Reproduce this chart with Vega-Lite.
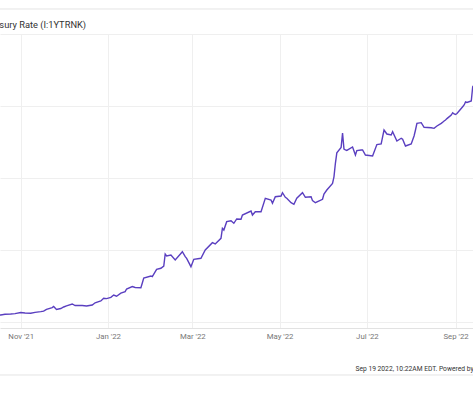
{
  "$schema": "https://vega.github.io/schema/vega-lite/v6.json",
  "autosize": {"type": "none"},
  "padding": {"left": 0, "top": 34, "right": 0, "bottom": 67},
  "width": 482,
  "height": 294,
  "background": "white",
  "config": {"view": {"stroke": null}, "font": "Roboto"},
  "title": {
    "text": "1 Year Treasury Rate (I:1YTRNK)",
    "anchor": "start",
    "orient": "top",
    "dx": -46.5,
    "offset": -22,
    "fontSize": 9.3,
    "fontWeight": "normal",
    "color": "#333333",
    "font": "Roboto"
  },
  "datasets": {
    "rate": [
      {"date": "2021-10-14", "value": 0.12},
      {"date": "2021-10-18", "value": 0.117},
      {"date": "2021-10-21", "value": 0.13},
      {"date": "2021-10-25", "value": 0.133},
      {"date": "2021-10-28", "value": 0.14},
      {"date": "2021-11-01", "value": 0.158},
      {"date": "2021-11-04", "value": 0.15},
      {"date": "2021-11-08", "value": 0.145},
      {"date": "2021-11-11", "value": 0.16},
      {"date": "2021-11-15", "value": 0.172},
      {"date": "2021-11-17", "value": 0.18},
      {"date": "2021-11-19", "value": 0.21},
      {"date": "2021-11-23", "value": 0.24},
      {"date": "2021-11-24", "value": 0.258},
      {"date": "2021-11-26", "value": 0.21},
      {"date": "2021-11-29", "value": 0.225},
      {"date": "2021-12-01", "value": 0.25},
      {"date": "2021-12-03", "value": 0.27},
      {"date": "2021-12-07", "value": 0.3},
      {"date": "2021-12-09", "value": 0.275},
      {"date": "2021-12-14", "value": 0.275},
      {"date": "2021-12-17", "value": 0.267},
      {"date": "2021-12-21", "value": 0.283},
      {"date": "2021-12-23", "value": 0.32},
      {"date": "2021-12-27", "value": 0.35},
      {"date": "2021-12-29", "value": 0.395},
      {"date": "2021-12-31", "value": 0.39},
      {"date": "2022-01-03", "value": 0.41},
      {"date": "2022-01-05", "value": 0.45},
      {"date": "2022-01-07", "value": 0.43},
      {"date": "2022-01-10", "value": 0.48},
      {"date": "2022-01-13", "value": 0.505},
      {"date": "2022-01-14", "value": 0.55},
      {"date": "2022-01-18", "value": 0.59},
      {"date": "2022-01-20", "value": 0.575},
      {"date": "2022-01-24", "value": 0.57},
      {"date": "2022-01-25", "value": 0.65},
      {"date": "2022-01-26", "value": 0.733},
      {"date": "2022-01-31", "value": 0.767},
      {"date": "2022-02-01", "value": 0.755},
      {"date": "2022-02-04", "value": 0.878},
      {"date": "2022-02-07", "value": 0.895},
      {"date": "2022-02-09", "value": 0.933},
      {"date": "2022-02-10", "value": 1.133},
      {"date": "2022-02-11", "value": 1.1},
      {"date": "2022-02-14", "value": 1.117},
      {"date": "2022-02-17", "value": 1.033},
      {"date": "2022-02-22", "value": 1.172},
      {"date": "2022-02-24", "value": 1.088},
      {"date": "2022-02-25", "value": 1.06},
      {"date": "2022-02-28", "value": 0.922},
      {"date": "2022-03-02", "value": 1.045},
      {"date": "2022-03-07", "value": 1.062},
      {"date": "2022-03-10", "value": 1.2},
      {"date": "2022-03-15", "value": 1.322},
      {"date": "2022-03-17", "value": 1.3},
      {"date": "2022-03-21", "value": 1.395},
      {"date": "2022-03-22", "value": 1.56},
      {"date": "2022-03-23", "value": 1.533},
      {"date": "2022-03-25", "value": 1.672},
      {"date": "2022-03-28", "value": 1.688},
      {"date": "2022-03-30", "value": 1.645},
      {"date": "2022-04-01", "value": 1.717},
      {"date": "2022-04-04", "value": 1.712},
      {"date": "2022-04-05", "value": 1.783},
      {"date": "2022-04-11", "value": 1.85},
      {"date": "2022-04-12", "value": 1.783},
      {"date": "2022-04-14", "value": 1.838},
      {"date": "2022-04-18", "value": 1.838},
      {"date": "2022-04-21", "value": 2.062},
      {"date": "2022-04-25", "value": 2.033},
      {"date": "2022-04-26", "value": 1.978},
      {"date": "2022-04-28", "value": 2.088},
      {"date": "2022-05-02", "value": 2.1},
      {"date": "2022-05-03", "value": 2.155},
      {"date": "2022-05-05", "value": 2.078},
      {"date": "2022-05-06", "value": 2.062},
      {"date": "2022-05-09", "value": 1.988},
      {"date": "2022-05-11", "value": 1.962},
      {"date": "2022-05-13", "value": 2.062},
      {"date": "2022-05-17", "value": 2.155},
      {"date": "2022-05-19", "value": 2.078},
      {"date": "2022-05-23", "value": 2.088},
      {"date": "2022-05-24", "value": 2.022},
      {"date": "2022-05-26", "value": 1.988},
      {"date": "2022-05-31", "value": 2.045},
      {"date": "2022-06-01", "value": 2.133},
      {"date": "2022-06-03", "value": 2.2},
      {"date": "2022-06-07", "value": 2.31},
      {"date": "2022-06-08", "value": 2.42},
      {"date": "2022-06-09", "value": 2.645},
      {"date": "2022-06-10", "value": 2.82},
      {"date": "2022-06-13", "value": 2.91},
      {"date": "2022-06-14", "value": 3.15},
      {"date": "2022-06-15", "value": 2.883},
      {"date": "2022-06-16", "value": 2.87},
      {"date": "2022-06-17", "value": 2.86},
      {"date": "2022-06-21", "value": 2.917},
      {"date": "2022-06-23", "value": 2.783},
      {"date": "2022-06-24", "value": 2.858},
      {"date": "2022-06-27", "value": 2.867},
      {"date": "2022-06-28", "value": 2.867},
      {"date": "2022-06-30", "value": 2.783},
      {"date": "2022-07-05", "value": 2.767},
      {"date": "2022-07-08", "value": 2.958},
      {"date": "2022-07-11", "value": 2.967},
      {"date": "2022-07-13", "value": 3.2},
      {"date": "2022-07-15", "value": 3.133},
      {"date": "2022-07-18", "value": 3.117},
      {"date": "2022-07-19", "value": 3.172},
      {"date": "2022-07-22", "value": 3.017},
      {"date": "2022-07-25", "value": 3.062},
      {"date": "2022-07-26", "value": 3.045},
      {"date": "2022-07-28", "value": 2.933},
      {"date": "2022-08-01", "value": 2.967},
      {"date": "2022-08-02", "value": 3.033},
      {"date": "2022-08-03", "value": 3.1},
      {"date": "2022-08-04", "value": 3.2},
      {"date": "2022-08-05", "value": 3.31},
      {"date": "2022-08-08", "value": 3.322},
      {"date": "2022-08-10", "value": 3.245},
      {"date": "2022-08-15", "value": 3.238},
      {"date": "2022-08-17", "value": 3.228},
      {"date": "2022-08-19", "value": 3.267},
      {"date": "2022-08-22", "value": 3.31},
      {"date": "2022-08-23", "value": 3.33},
      {"date": "2022-08-24", "value": 3.35},
      {"date": "2022-08-25", "value": 3.367},
      {"date": "2022-08-26", "value": 3.39},
      {"date": "2022-08-29", "value": 3.45},
      {"date": "2022-08-30", "value": 3.488},
      {"date": "2022-08-31", "value": 3.467},
      {"date": "2022-09-01", "value": 3.458},
      {"date": "2022-09-02", "value": 3.475},
      {"date": "2022-09-06", "value": 3.588},
      {"date": "2022-09-07", "value": 3.617},
      {"date": "2022-09-08", "value": 3.667},
      {"date": "2022-09-09", "value": 3.658},
      {"date": "2022-09-12", "value": 3.683},
      {"date": "2022-09-13", "value": 3.92},
      {"date": "2022-09-14", "value": 3.95},
      {"date": "2022-09-15", "value": 3.98},
      {"date": "2022-09-16", "value": 3.97}
    ],
    "frame": [
      {"edge": "top", "level": 5.2167},
      {"edge": "bottom", "level": -0.883}
    ]
  },
  "layer": [
    {
      "data": {"name": "frame"},
      "mark": {"type": "rule", "color": "#e4e4e4", "strokeWidth": 1},
      "encoding": {
        "y": {"field": "level", "type": "quantitative"}
      }
    },
    {
      "data": {"name": "rate"},
      "mark": {"type": "line", "color": "#5a3fc0", "strokeWidth": 1.4, "clip": true},
      "encoding": {
        "x": {
          "field": "date",
          "type": "temporal",
          "scale": {
            "type": "utc",
            "domain": [
              {"year": 2021, "month": 10, "date": 17, "hours": 12, "utc": true},
              {"year": 2022, "month": 9, "date": 19, "hours": 12, "utc": true}
            ]
          },
          "axis": {
            "values": [
              {"year": 2021, "month": 11, "date": 1, "utc": true},
              {"year": 2022, "month": 1, "date": 1, "utc": true},
              {"year": 2022, "month": 3, "date": 1, "utc": true},
              {"year": 2022, "month": 5, "date": 1, "utc": true},
              {"year": 2022, "month": 7, "date": 1, "utc": true},
              {"year": 2022, "month": 9, "date": 1, "utc": true}
            ],
            "labelExpr": "utcFormat(datum.value, \"%b '%y\")",
            "labelFont": "Roboto",
            "labelFontSize": 7.8,
            "labelColor": "#777777",
            "labelPadding": 4,
            "ticks": false,
            "grid": true,
            "gridColor": "#efefef",
            "domainColor": "#e2e2e2",
            "title": "Sep 19 2022, 10:22AM EDT. Powered by YCHARTS",
            "titleFont": "Roboto",
            "titleFontSize": 6.7,
            "titleFontWeight": "normal",
            "titleColor": "#333333",
            "titleAnchor": "start",
            "titleAlign": "left",
            "titleBaseline": "alphabetic",
            "titleX": 355,
            "titleY": 42
          }
        },
        "y": {
          "field": "value",
          "type": "quantitative",
          "scale": {"domain": [-0.1, 4.8], "nice": false, "zero": false},
          "axis": {
            "orient": "right",
            "values": [0, 1.2, 2.4, 3.6, 4.8],
            "labels": false,
            "ticks": false,
            "domain": false,
            "grid": true,
            "gridColor": "#efefef",
            "title": null
          }
        }
      }
    }
  ]
}
